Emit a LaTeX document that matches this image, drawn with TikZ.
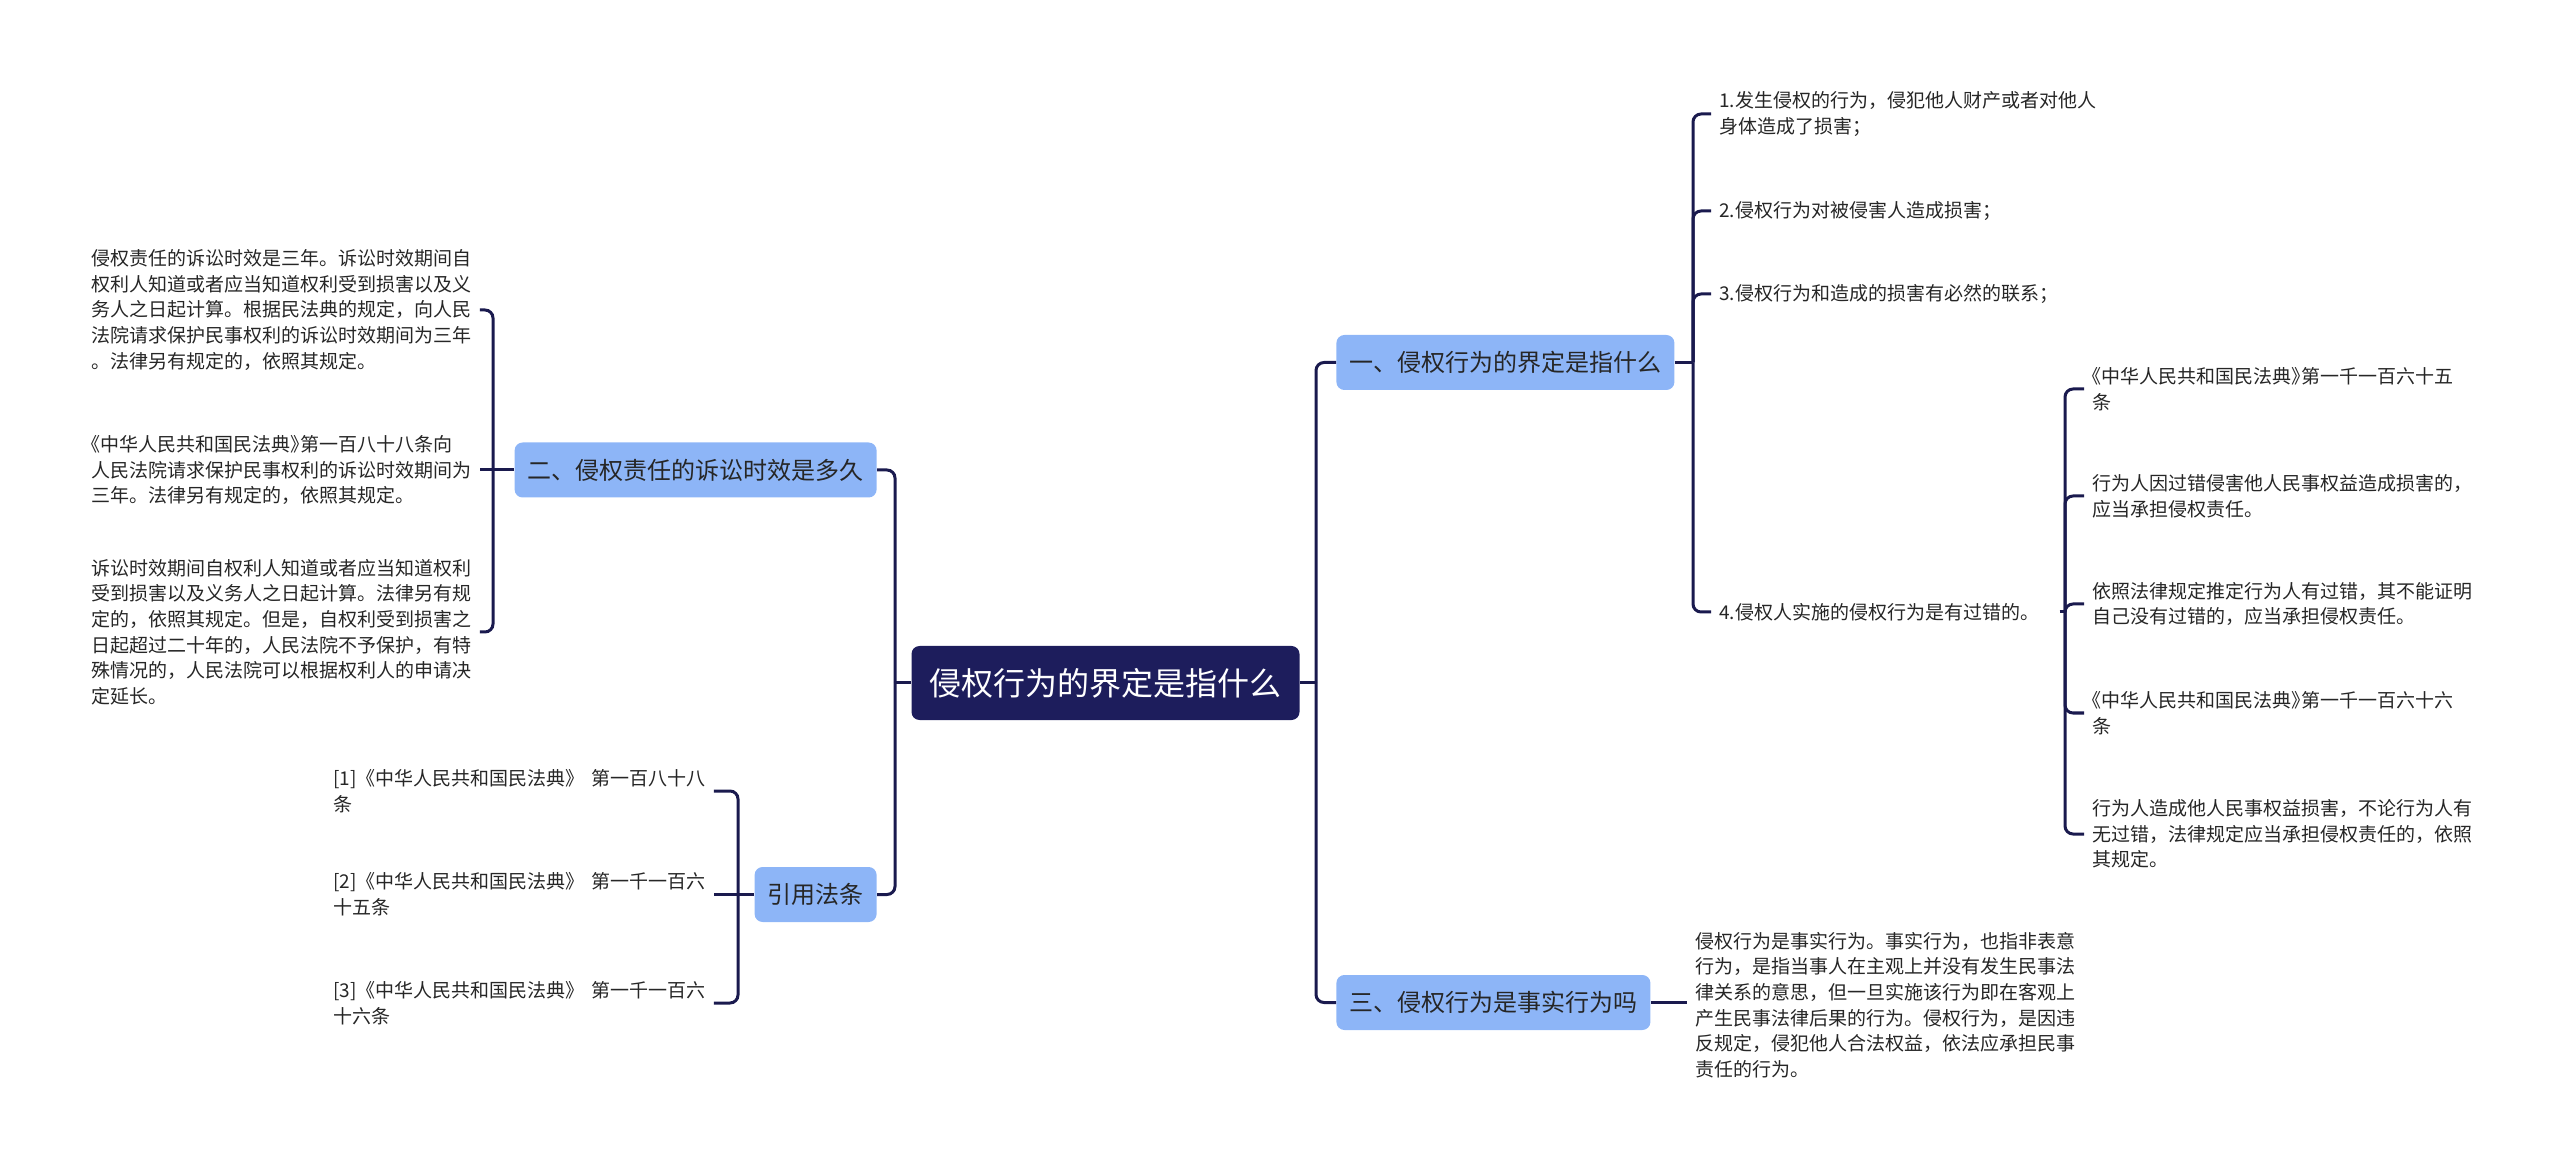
\documentclass[tikz,border=0pt]{standalone}
\usepackage{fontspec}
\setmainfont{Noto Sans CJK SC}
\definecolor{linec}{HTML}{1A1A4E}
\definecolor{rootc}{HTML}{1D1D5C}
\definecolor{topicc}{HTML}{8DB5F7}
\definecolor{textc}{HTML}{262626}
\newcommand{\lbk}{{\addfontfeature{RawFeature=+halt}《}}
\newcommand{\rbk}{{\addfontfeature{RawFeature=+halt}》}}
\begin{document}
\begin{tikzpicture}[x=0.5pt,y=-0.5pt,
  conn/.style={draw=linec, line width=1.5pt},
  rconn/.style={conn, rounded corners=4pt},
  root/.style={fill=rootc, text=white, rounded corners=4pt, font=\fontsize{16pt}{19pt}\selectfont, inner xsep=9pt, inner ysep=0pt, minimum height=37pt},
  topic/.style={fill=topicc, text=textc, rounded corners=4pt, font=\fontsize{12pt}{14pt}\selectfont, inner xsep=6.5pt, inner ysep=0pt, minimum height=27.5pt},
  leaf/.style={text=textc, align=left, inner xsep=4pt, inner ysep=0pt, font=\fontsize{9.5pt}{12.8pt}\selectfont},
]
\useasboundingbox (0,0) rectangle (2560,1165);

% root
\node[root] (root) at (1105.5,683) {侵权行为的界定是指什么};

% level 1
\node[topic, anchor=west] (n1) at (1336,362.5) {一、侵权行为的界定是指什么};
\node[topic, anchor=west] (n3) at (1336,1002.5) {三、侵权行为是事实行为吗};
\node[topic, anchor=east] (n2) at (877,470) {二、侵权责任的诉讼时效是多久};
\node[topic, anchor=east] (n4) at (877,894.5) {引用法条};

% children of n1
\node[leaf, anchor=west] (t11) at (1711,114) {1.发生侵权的行为，侵犯他人财产或者对他人\\身体造成了损害；};
\node[leaf, anchor=west] (t12) at (1711,211) {2.侵权行为对被侵害人造成损害；};
\node[leaf, anchor=west] (t13) at (1711,294) {3.侵权行为和造成的损害有必然的联系；};
\node[leaf, anchor=west] (t14) at (1711,612) {4.侵权人实施的侵权行为是有过错的。};

% children of 4.
\node[leaf, anchor=west] (t41) at (2084,389) {\lbk 中华人民共和国民法典\rbk 第一千一百六十五\\条};
\node[leaf, anchor=west] (t42) at (2084,496) {行为人因过错侵害他人民事权益造成损害的，\\应当承担侵权责任。};
\node[leaf, anchor=west] (t43) at (2084,604) {依照法律规定推定行为人有过错，其不能证明\\自己没有过错的，应当承担侵权责任。};
\node[leaf, anchor=west] (t44) at (2084,713) {\lbk 中华人民共和国民法典\rbk 第一千一百六十六\\条};
\node[leaf, anchor=west] (t45) at (2084,834) {行为人造成他人民事权益损害，不论行为人有\\无过错，法律规定应当承担侵权责任的，依照\\其规定。};

% child of n3
\node[leaf, anchor=west] (t31) at (1687,1005) {侵权行为是事实行为。事实行为，也指非表意\\行为，是指当事人在主观上并没有发生民事法\\律关系的意思，但一旦实施该行为即在客观上\\产生民事法律后果的行为。侵权行为，是因违\\反规定，侵犯他人合法权益，依法应承担民事\\责任的行为。};

% children of n2
\node[leaf, anchor=west, text width=190pt] (t21) at (83,310) {侵权责任的诉讼时效是三年。诉讼时效期间自\\权利人知道或者应当知道权利受到损害以及义\\务人之日起计算。根据民法典的规定，向人民\\法院请求保护民事权利的诉讼时效期间为三年\\。法律另有规定的，依照其规定。};
\node[leaf, anchor=west, text width=190pt] (t22) at (83,470) {\lbk 中华人民共和国民法典\rbk 第一百八十八条向\\人民法院请求保护民事权利的诉讼时效期间为\\三年。法律另有规定的，依照其规定。};
\node[leaf, anchor=west, text width=190pt] (t23) at (83,632) {诉讼时效期间自权利人知道或者应当知道权利\\受到损害以及义务人之日起计算。法律另有规\\定的，依照其规定。但是，自权利受到损害之\\日起超过二十年的，人民法院不予保护，有特\\殊情况的，人民法院可以根据权利人的申请决\\定延长。};

% children of n4
\node[leaf, anchor=west, text width=186pt] (t51) at (325,791) {[1]《中华人民共和国民法典》~第一百八十八\\条};
\node[leaf, anchor=west, text width=186pt] (t52) at (325,894.5) {[2]《中华人民共和国民法典》~第一千一百六\\十五条};
\node[leaf, anchor=west, text width=186pt] (t53) at (325,1003) {[3]《中华人民共和国民法典》~第一千一百六\\十六条};

% junction points
\coordinate (jL) at (895,683);
\coordinate (jR) at (1316,683);
\coordinate (j1) at (1693,362.5);
\coordinate (j14) at (2065,612);
\coordinate (j2) at (493,470);
\coordinate (j4) at (738,894.5);

% root connectors
\draw[conn] (root.west) -- (jL);
\draw[conn] (root.east) -- (jR);
\draw[rconn] (jL) |- (n2.east);
\draw[rconn] (jL) |- (n4.east);
\draw[rconn] (jR) |- (n1.west);
\draw[rconn] (jR) |- (n3.west);

% n1 connectors
\draw[conn] (n1.east) -- (j1);
\draw[rconn] (j1) |- (t11.west);
\draw[rconn] (j1) |- (t12.west);
\draw[rconn] (j1) |- (t13.west);
\draw[rconn] (j1) |- (t14.west);

% 4. connectors
\draw[conn, shorten <=6pt] (t14.east) -- (j14);
\draw[rconn] (j14) |- (t41.west);
\draw[rconn] (j14) |- (t42.west);
\draw[rconn] (j14) |- (t43.west);
\draw[rconn] (j14) |- (t44.west);
\draw[rconn] (j14) |- (t45.west);

% n3 connector
\draw[conn] (n3.east) -- (n3.east -| t31.west);

% n2 connectors
\draw[conn] (n2.west) -- (t22.east);
\draw[rconn] (j2) |- (t21.east);
\draw[rconn] (j2) |- (t23.east);

% n4 connectors
\draw[conn] (n4.west) -- (t52.east);
\draw[rconn] (j4) |- (t51.east);
\draw[rconn] (j4) |- (t53.east);
\end{tikzpicture}
\end{document}
